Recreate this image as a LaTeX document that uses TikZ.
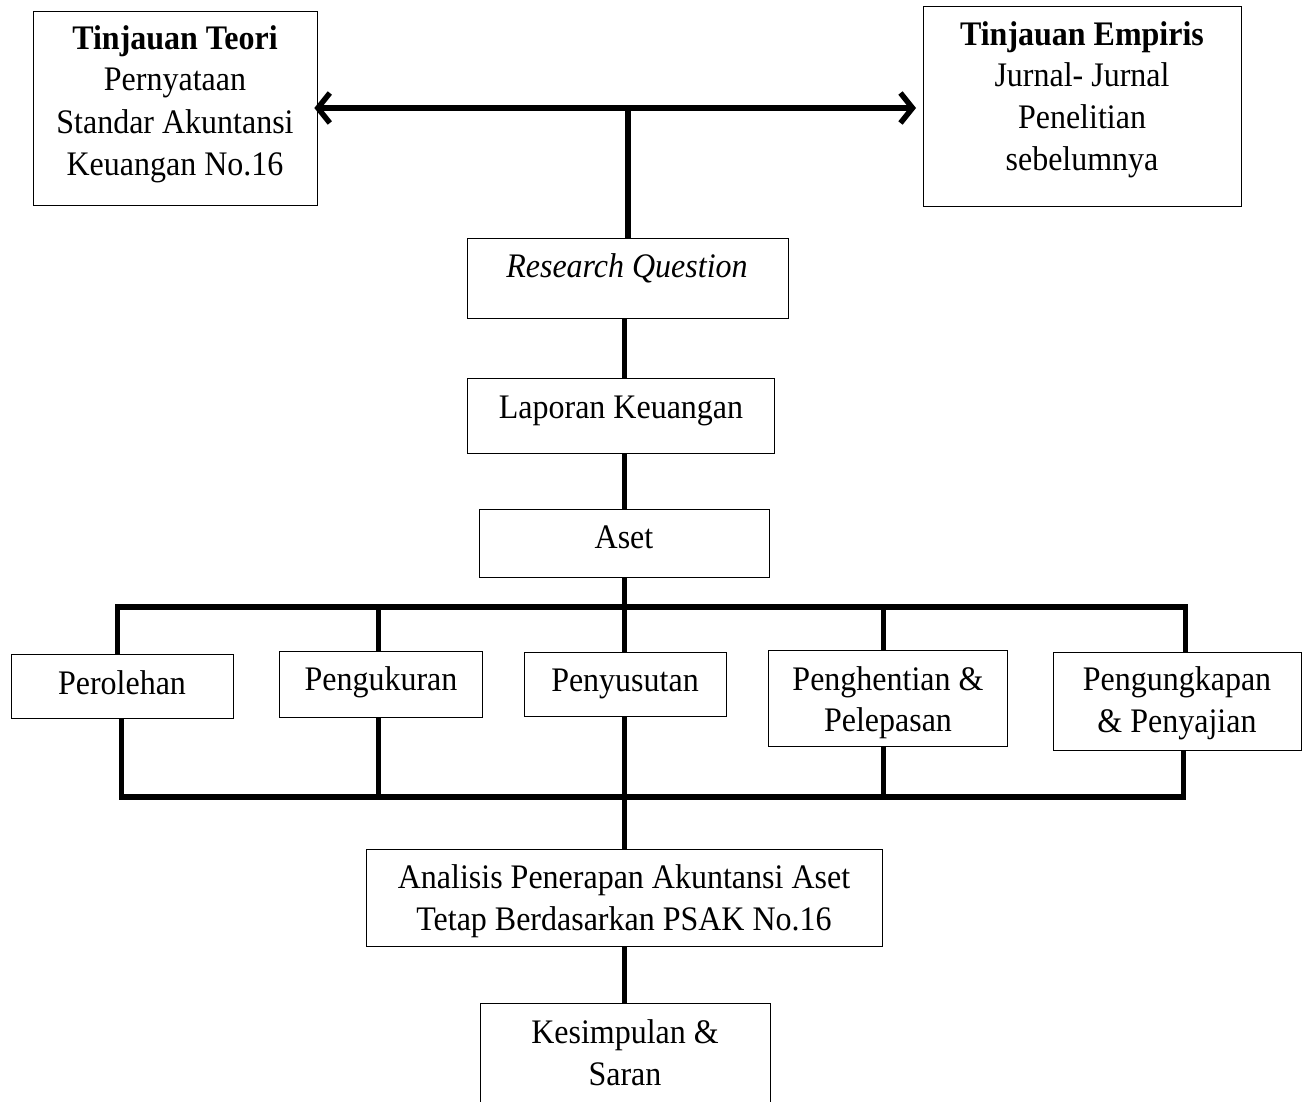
\documentclass[tikz,border=0pt]{standalone}
\usepackage{fontspec}
\setmainfont{Liberation Serif}[FakeStretch=0.93]
\usetikzlibrary{arrows.meta}
\begin{document}
\begin{tikzpicture}[x=1pt,y=-1pt,
  box/.style={draw=black, line width=1.3pt, fill=none, inner sep=0pt, anchor=north west},
  txt/.style={anchor=base, inner sep=0pt, font=\fontsize{34.4}{40}\selectfont},
  conn/.style={line width=5.5pt, line cap=butt},
  arr/.style={line width=5.5pt, -{Straight Barb[length=12pt,width=30pt,line width=5.5pt]}}]
\useasboundingbox (0,0) rectangle (1309,1102);
\fill[white] (0,0) rectangle (1309,1102);
% boxes
\node[box, minimum width=284pt, minimum height=194pt] (tt) at (33,11) {};
\node[box, minimum width=318pt, minimum height=200pt] (te) at (923,6) {};
\node[box, minimum width=321pt, minimum height=80pt] (rq) at (467,238) {};
\node[box, minimum width=307pt, minimum height=75pt] (lk) at (467,378) {};
\node[box, minimum width=290pt, minimum height=68pt] (as) at (479,509) {};
\node[box, minimum width=222pt, minimum height=64pt] (p1) at (11,654) {};
\node[box, minimum width=203pt, minimum height=66pt] (p2) at (279,651) {};
\node[box, minimum width=202pt, minimum height=64pt] (p3) at (524,652) {};
\node[box, minimum width=239pt, minimum height=96pt] (p4) at (768,650) {};
\node[box, minimum width=248pt, minimum height=98pt] (p5) at (1053,652) {};
\node[box, minimum width=516pt, minimum height=97pt] (an) at (366,849) {};
\node[box, minimum width=290pt, minimum height=110pt] (ks) at (480,1003) {};
% texts
\node[txt] (tt1) at (175,50) {\textbf{Tinjauan Teori}};
\node[txt] (tt2) at (175,91) {Pernyataan};
\node[txt] (tt3) at (175,134) {Standar Akuntansi};
\node[txt] (tt4) at (175,176) {Keuangan No.16};
\node[txt] (te1) at (1082,46) {\textbf{Tinjauan Empiris}};
\node[txt] (te2) at (1082,87) {Jurnal- Jurnal};
\node[txt] (te3) at (1082,129) {Penelitian};
\node[txt] (te4) at (1082,171) {sebelumnya};
\node[txt] (rqt) at (627,277) {\textit{Research Question}};
\node[txt] (lkt) at (621,418) {Laporan Keuangan};
\node[txt] (ast) at (624,548) {Aset};
\node[txt] (p1t) at (122,694) {Perolehan};
\node[txt] (p2t) at (381,690) {Pengukuran};
\node[txt] (p3t) at (625,691) {Penyusutan};
\node[txt] (p4a) at (888,690) {Penghentian \&};
\node[txt] (p4b) at (888,731) {Pelepasan};
\node[txt] (p5a) at (1177,690) {Pengungkapan};
\node[txt] (p5b) at (1177,732) {\& Penyajian};
\node[txt] (an1) at (624,888) {Analisis Penerapan Akuntansi Aset};
\node[txt] (an2) at (624,930) {Tetap Berdasarkan PSAK No.16};
\node[txt] (ks1) at (625,1043) {Kesimpulan \&};
\node[txt] (ks2) at (625,1085) {Saran};
% connectors
\coordinate (hub) at (628,108);
\coordinate (tb) at (0,607);
\coordinate (bb) at (0,797);
\draw[arr] (hub) -- ([xshift=-4pt]tt.east |- hub);
\draw[arr] (hub) -- ([xshift=-7pt]te.west |- hub);
\draw[conn] ([yshift=-2.75pt]hub) -- (hub |- rq.north);
\draw[conn] (rq.south -| as.north) -- (lk.north -| as.north);
\draw[conn] (lk.south -| as.north) -- (as.north);
\draw[conn] (as.south) -- (as.south |- tb);
\draw[conn] ([xshift=-5pt]p1.north) |- ([xshift=8pt]p5.north |- tb) -- ([xshift=8pt]p5.north);
\draw[conn] ([xshift=-2.5pt]p2.north |- tb) -- ([xshift=-2.5pt]p2.north);
\draw[conn] ([xshift=-1pt]p3.north |- tb) -- ([xshift=-1pt]p3.north);
\draw[conn] ([xshift=-4.5pt]p4.north |- tb) -- ([xshift=-4.5pt]p4.north);
\draw[conn] ([xshift=-1pt]p1.south) |- ([xshift=6pt]p5.south |- bb) -- ([xshift=6pt]p5.south);
\draw[conn] ([xshift=-2.5pt]p2.south) -- ([xshift=-2.5pt]p2.south |- bb);
\draw[conn] (p3.south -| an.north) -- (an.north);
\draw[conn] ([xshift=-4.5pt]p4.south) -- ([xshift=-4.5pt]p4.south |- bb);
\draw[conn] (an.south) -- (an.south |- ks.north);
\end{tikzpicture}
\end{document}
